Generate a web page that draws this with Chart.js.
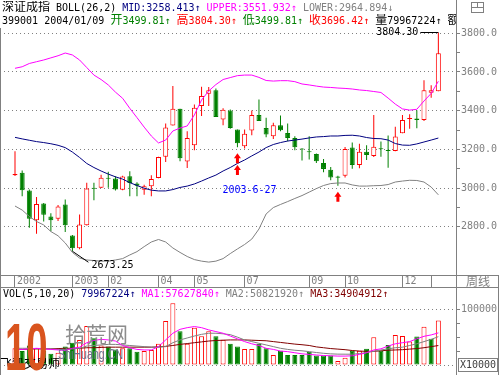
<!DOCTYPE html>
<html>
<head>
<meta charset="utf-8">
<title>深证成指 周线 BOLL</title>
<script src="https://cdn.jsdelivr.net/npm/chart.js@4.4.1/dist/chart.umd.min.js"></script>
<style>
  body { margin: 0; background: #fff; }
  #box { position: relative; width: 500px; height: 375px; overflow: hidden; background: #fff;
         font-family: 'DejaVu Sans Mono', monospace; font-size: 10px; color: #000; }
  canvas { position: absolute; left: 0; }
  .row { position: absolute; white-space: pre; line-height: 13px; overflow: hidden; }
  .cj { font-family: 'Noto Sans CJK SC', sans-serif; font-size: 12px; line-height: 0; }
  .ln { position: absolute; background: #808080; }
</style>
</head>
<body>
<div id="box">
  <canvas id="price" width="500" height="287" style="top:0"></canvas>
  <canvas id="vol" width="500" height="88" style="top:287px"></canvas>

  <div class="row" style="left:2px;top:1px;width:454px"><span class="cj">深证成指</span> BOLL(26,2) <span style="color:#000080">MID:3258.413↑</span> <span style="color:#ff00ff">UPPER:3551.932↑</span> <span style="color:#808080">LOWER:2964.894↓</span></div>
  <div class="row" style="left:2px;top:14px;width:454px">399001 2004/01/09 <span style="color:#008000"><span class="cj">开</span>3499.81↑</span> <span style="color:#ff0000"><span class="cj">高</span>3804.30↑</span> <span style="color:#008000"><span class="cj">低</span>3499.81↑</span> <span style="color:#ff0000"><span class="cj">收</span>3696.42↑</span> <span class="cj">量</span>79967224↑ <span class="cj">额</span></div>
  <div class="row" style="left:3px;top:287px;width:452px">VOL(5,10,20) <span style="color:#000080">79967224↑</span> <span style="color:#ff00ff">MA1:57627840↑</span> <span style="color:#808080">MA2:50821920↑</span> <span style="color:#800000">MA3:34904912↑</span></div>

  <!-- frame -->
  <div class="ln" style="left:0;top:28px;width:1px;height:347px"></div>
  <div class="ln" style="left:456px;top:0;width:1px;height:375px"></div>
  <div class="ln" style="left:0;top:275px;width:498px;height:1px"></div>
  <div class="ln" style="left:0;top:287px;width:498px;height:1px"></div>
  <div class="ln" style="left:498px;top:275px;width:1px;height:100px"></div>
  <div class="row" style="left:466px;top:276px;color:#808080"><span class="cj">周线</span></div>
  <div style="position:absolute;left:471px;top:2px;width:11px;height:9px;border:1px solid #808080">
    <div class="ln" style="left:0;top:4px;width:11px;height:1px"></div>
    <div class="ln" style="left:5px;top:0;width:1px;height:4px"></div>
  </div>
  <div style="position:absolute;left:458px;top:358px;width:38px;height:12px;border:1px solid #808080;overflow:hidden">
    <div class="row" style="left:1px;top:-1px;color:#404040">X10000</div>
  </div>

  <!-- watermark -->
  <div class="row" style="left:0;top:358px"><span class="cj">飞狐交易师</span></div>
  <div style="position:absolute;left:5px;top:314px;font:bold 66px 'Liberation Sans',sans-serif;line-height:66px;color:#d9541e;transform:scaleX(0.58);transform-origin:0 0">10</div>
  <div style="position:absolute;left:65px;top:321px;font:21px 'Noto Sans CJK SC',sans-serif;line-height:24px;color:#8c8c8c">拾荒网</div>
  <div style="position:absolute;left:58px;top:345px;font:15px 'Liberation Sans',sans-serif;color:#6e7390;transform:scaleX(0.71);transform-origin:0 0">ShiHuang.CN</div>
</div>

<script>
// weekly candles, 60 weeks ending 2004/01/09
const opens = [3066, 3079, 2987, 2834, 2920, 2853, 2841, 2915, 2755, 2688,
               2808, 3001, 3001, 3053, 3049, 2991, 3061, 3023, 2991, 3009,
               3052, 3162, 3323, 3410, 3137, 3221, 3424, 3488, 3505, 3354,
               3401, 3303, 3216, 3297, 3377, 3311, 3268, 3325, 3285, 3259,
               3204, 3190, 3176, 3130, 3095, 3059, 3064, 3209, 3119, 3188,
               3166, 3205, 3197, 3191, 3283, 3357, 3359, 3352, 3493, 3499.81];
const highs = [3190, 3091, 2992, 2953, 2922, 2869, 2912, 2941, 2757, 2863,
               3027, 3027, 3068, 3084, 3061, 3064, 3087, 3030, 3017, 3066,
               3162, 3334, 3527, 3410, 3294, 3432, 3524, 3522, 3514, 3413,
               3406, 3303, 3303, 3401, 3458, 3363, 3337, 3375, 3334, 3268,
               3206, 3268, 3178, 3150, 3109, 3064, 3212, 3235, 3229, 3221,
               3378, 3240, 3272, 3317, 3378, 3381, 3402, 3557, 3531, 3804.30];
const lows = [3062, 2958, 2795, 2764, 2827, 2777, 2829, 2772, 2673.25, 2683,
              2806, 2937, 3000, 3001, 2987, 2988, 2957, 2957, 2965, 2957,
              3050, 3134, 3323, 3138, 3104, 3195, 3372, 3424, 3367, 3325,
              3306, 3211, 3204, 3273, 3346, 3263, 3254, 3294, 3242, 3195,
              3142, 3147, 3130, 3081, 3040, 3012, 3055, 3100, 3102, 3145,
              3160, 3162, 3105, 3190, 3283, 3307, 3309, 3347, 3467, 3499.81];
const closes = [3073, 2989, 2841, 2918, 2862, 2834, 2905, 2808, 2688, 2812,
                2998, 2996, 3053, 3048, 2992, 3059, 3026, 3012, 3009, 3047,
                3160, 3313, 3410, 3154, 3259, 3415, 3476, 3505, 3367, 3405,
                3310, 3232, 3280, 3377, 3346, 3277, 3325, 3299, 3259, 3211,
                3199, 3185, 3138, 3099, 3055, 3053, 3202, 3119, 3188, 3171,
                3214, 3200, 3191, 3266, 3352, 3360, 3352, 3505, 3505, 3696.42];

// BOLL(26,2) bands
const upper = [3619, 3627, 3644, 3653, 3662, 3673, 3684, 3698, 3688, 3662,
               3623, 3584, 3561, 3533, 3496, 3464, 3412, 3364, 3315, 3269,
               3233, 3248, 3295, 3310, 3321, 3378, 3455, 3502, 3535, 3561,
               3571, 3581, 3584, 3584, 3572, 3556, 3553, 3555, 3555, 3550,
               3538, 3533, 3527, 3522, 3520, 3517, 3515, 3512, 3507, 3504,
               3499, 3494, 3465, 3434, 3409, 3403, 3407, 3450, 3489, 3551.932];
const mid = [3262, 3254, 3247, 3240, 3235, 3229, 3221, 3209, 3186, 3158,
             3127, 3106, 3088, 3072, 3058, 3046, 3028, 3013, 2999, 2989,
             2985, 2985, 2992, 3003, 3010, 3021, 3036, 3052, 3067, 3088,
             3106, 3127, 3145, 3166, 3186, 3209, 3225, 3235, 3243, 3248,
             3253, 3259, 3264, 3266, 3269, 3269, 3272, 3273, 3269, 3261,
             3256, 3255, 3248, 3230, 3222, 3221, 3228, 3238, 3248, 3258.413];
const lower = [2907, 2886, 2853, 2827, 2809, 2775, 2753, 2716, 2667, 2638,
               2628, 2625, 2622, 2622, 2628, 2635, 2654, 2671, 2697, 2721,
               2734, 2721, 2690, 2667, 2646, 2630, 2622, 2617, 2622, 2635,
               2661, 2685, 2708, 2736, 2788, 2866, 2899, 2915, 2930, 2946,
               2961, 2979, 2997, 3013, 3023, 3026, 3026, 3016, 3010, 3010,
               3012, 3013, 3018, 3031, 3036, 3040, 3039, 3031, 3005, 2964.894];

// volume in millions of shares, 1 = red (up) bar
const volumes = [30, 25, 35, 30, 25, 20, 22, 33, 40, 45,
                 70, 48, 35, 33, 28, 30, 30, 24, 25, 27,
                 38, 79, 111, 60.6, 38, 66.7, 51.5, 60.6, 51.5, 45.5,
                 38, 33, 28.5, 28.5, 38, 30, 18, 25.5, 18, 18,
                 18, 24, 17, 17, 17, 7, 13, 25.5, 25.5, 29,
                 50, 25.5, 35.8, 54, 52, 42, 51, 68.5, 47, 79.967224];
const volUp = [1, 0, 0, 1, 0, 0, 1, 0, 0, 1,
               1, 0, 1, 0, 0, 1, 0, 0, 1, 1,
               1, 1, 1, 0, 1, 1, 1, 1, 0, 1,
               0, 0, 1, 1, 0, 0, 1, 0, 0, 0,
               0, 0, 0, 0, 0, 1, 1, 0, 1, 0,
               1, 0, 0, 1, 1, 1, 0, 1, 0, 1];
const ma1 = [28, 28, 29, 30, 29, 28, 27, 26, 30, 32,
             40, 44, 46, 45, 43, 35, 31, 28, 27, 27,
             33, 45, 57, 64, 67, 69, 67, 63, 60, 57,
             52, 47, 42, 38, 35, 30, 28, 25, 24, 22,
             20, 19, 18, 17, 16.5, 16, 16, 16.5, 19, 22,
             27, 29, 34, 38, 40, 42, 47, 51.5, 54, 57.62784];
const ma2 = [30, 30, 30, 29, 29, 29, 28, 28, 29, 30,
             34, 35, 36, 37, 37, 36, 35, 34, 33, 32,
             32, 33, 40, 45, 48.5, 52, 55, 57, 57, 56,
             54.5, 50, 45, 42, 39, 36, 33, 30, 28, 26.5,
             25.5, 24, 22.4, 21, 20, 19.5, 19.4, 19.4, 20.5, 22.4,
             24.5, 27, 29, 31, 32, 35, 38, 42, 46, 50.82192];
const ma3 = [28, 28, 28.5, 29, 29, 29, 29.5, 30, 30, 30,
             31, 31, 31.5, 32, 32, 32, 32, 32, 32, 32,
             32.5, 33.5, 35, 37, 38.5, 40, 41.5, 43, 44, 44.5,
             45, 45, 45, 44.5, 44, 43.5, 42, 40.5, 39, 37.5,
             36.4, 35, 32.5, 31, 29.5, 28.5, 27.5, 26, 25, 24.5,
             24.5, 25.5, 26.5, 27, 27.5, 28.5, 29.5, 31, 33, 34.904912];

const dateTickIdx = [0, 8, 13, 20, 25, 32, 41, 46, 54, 58];
const dateTickText = ['2002', '2003', '02', '04', '05', '07', '09', '10', '12', ''];
const priceTicks = [2800, 2900, 3000, 3100, 3200, 3300, 3400, 3500, 3600, 3700, 3800];
const volTicks = [0, 25, 50, 75, 100];

// annotations: [week index, price]
const arrowMarks = [[31, 3180], [31, 3119], [45, 2981]];
const dateMark = [31, 2986, '2003-6-27'];

const RED = '#ff0000', GREEN = '#008000', GRAY = '#808080';
const MONO = "'DejaVu Sans Mono', monospace";
const X_MIN = -2.09, X_MAX = 61.46;
const CLEAR = 'rgba(0,0,0,0)';

const isUp = closes.map((c, i) => c >= opens[i]);
const xy = arr => arr.map((v, i) => ({ x: i, y: v }));

function lineSet(label, arr, color) {
    return {
        type: 'line', label: label, data: xy(arr),
        borderColor: color, borderWidth: 1, pointRadius: 0, tension: 0, order: 1
    };
}

// labels, lines and arrows drawn on the price panel
const priceMarks = {
    id: 'priceMarks',
    afterDatasetsDraw(chart) {
        const { ctx, scales: { x, y } } = chart;
        ctx.save();
        ctx.font = "10px 'DejaVu Sans Mono', monospace";
        ctx.lineWidth = 1;
        ctx.strokeStyle = '#000';
        ctx.fillStyle = '#000';
        ctx.textBaseline = 'middle';

        const hiVal = Math.max(...highs);
        const hx = x.getPixelForValue(highs.indexOf(hiVal));
        const hy = Math.round(y.getPixelForValue(hiVal)) + 0.5;
        ctx.beginPath();
        ctx.moveTo(hx - 18, hy);
        ctx.lineTo(hx, hy);
        ctx.stroke();
        ctx.textAlign = 'right';
        ctx.fillText(hiVal.toFixed(2), hx - 20, hy);

        const loVal = Math.min(...lows);
        const lx = x.getPixelForValue(lows.indexOf(loVal));
        const ly = y.getPixelForValue(loVal);
        ctx.beginPath();
        ctx.moveTo(lx, ly);
        ctx.lineTo(lx + 16, ly + 11);
        ctx.stroke();
        ctx.textAlign = 'left';
        ctx.fillText(loVal.toFixed(2), lx + 19, ly + 14);

        ctx.fillStyle = '#0000ff';
        ctx.fillText(dateMark[2], x.getPixelForValue(dateMark[0]) - 15, y.getPixelForValue(dateMark[1]));

        ctx.fillStyle = RED;
        arrowMarks.forEach(([i, v]) => {
            const px = x.getPixelForValue(i), py = y.getPixelForValue(v);
            ctx.beginPath();
            ctx.moveTo(px, py);
            ctx.lineTo(px + 3.5, py + 5);
            ctx.lineTo(px + 1.5, py + 5);
            ctx.lineTo(px + 1.5, py + 10);
            ctx.lineTo(px - 1.5, py + 10);
            ctx.lineTo(px - 1.5, py + 5);
            ctx.lineTo(px - 3.5, py + 5);
            ctx.closePath();
            ctx.fill();
        });
        ctx.restore();
    }
};

function initCharts() {
    // Price panel: candles + BOLL bands
    const priceConfig = {
        type: 'bar',
        data: {
            datasets: [
                lineSet('UPPER', upper, '#ff00ff'),
                lineSet('MID', mid, '#000080'),
                lineSet('LOWER', lower, GRAY),
                {
                    label: 'body',
                    data: opens.map((o, i) => ({ x: i, y: [o, closes[i]] })),
                    backgroundColor: isUp.map(u => u ? '#ffffff' : GREEN),
                    borderColor: isUp.map(u => u ? RED : GREEN),
                    borderWidth: 1, borderSkipped: false, barThickness: 5,
                    minBarLength: 1, grouped: false, inflateAmount: 0, order: 2
                },
                {
                    label: 'wick',
                    data: lows.map((l, i) => ({ x: i, y: [l, highs[i]] })),
                    backgroundColor: isUp.map(u => u ? RED : GREEN),
                    borderWidth: 0, barThickness: 1, grouped: false, inflateAmount: 0, order: 3
                }
            ]
        },
        options: {
            responsive: false, animation: false, devicePixelRatio: 1,
            layout: { padding: { top: 28, left: 0, right: 0, bottom: 0 } },
            plugins: { legend: { display: false }, tooltip: { enabled: false } },
            scales: {
                x: {
                    type: 'linear', min: X_MIN, max: X_MAX, offset: false,
                    afterBuildTicks: s => { s.ticks = dateTickIdx.map(v => ({ value: v })); },
                    afterFit: s => { s.height = 12; s.paddingLeft = 0; s.paddingRight = 0; },
                    grid: { offset: false, drawOnChartArea: false, drawTicks: true, tickLength: 12, tickColor: GRAY, color: GRAY },
                    border: { display: false },
                    ticks: {
                        autoSkip: false, maxRotation: 0, minRotation: 0, align: 'start',
                        labelOffset: 2, padding: -11.5, color: GRAY, font: { family: MONO, size: 10 },
                        callback: (v, i) => dateTickText[i]
                    }
                },
                y: {
                    position: 'right', min: 2550.3, max: 3827.4,
                    afterBuildTicks: s => { s.ticks = priceTicks.map(v => ({ value: v })); },
                    afterFit: s => { s.width = 44; s.paddingTop = 0; s.paddingBottom = 0; },
                    grid: {
                        color: c => (c.tick && c.tick.value % 200 === 0) ? GRAY : CLEAR,
                        tickColor: GRAY, tickLength: 4, drawTicks: true
                    },
                    border: { display: false, dash: [1, 3] },
                    ticks: {
                        padding: 1, color: GRAY, font: { family: MONO, size: 10 },
                        callback: v => v % 200 === 0 ? v.toFixed(1) : ''
                    }
                }
            }
        },
        plugins: [priceMarks]
    };

    // Volume panel: bars + MA(5,10,20)
    const volConfig = {
        type: 'bar',
        data: {
            datasets: [
                lineSet('MA1', ma1, '#ff00ff'),
                lineSet('MA2', ma2, GRAY),
                lineSet('MA3', ma3, '#800000'),
                {
                    label: 'VOL',
                    data: xy(volumes),
                    backgroundColor: volUp.map(u => u ? '#ffffff' : GREEN),
                    borderColor: volUp.map(u => u ? RED : GREEN),
                    borderWidth: 1, borderSkipped: false, barThickness: 5,
                    grouped: false, inflateAmount: 0, order: 2
                }
            ]
        },
        options: {
            responsive: false, animation: false, devicePixelRatio: 1,
            layout: { padding: { top: 1, left: 0, right: 0, bottom: 10 } },
            plugins: { legend: { display: false }, tooltip: { enabled: false } },
            scales: {
                x: { type: 'linear', min: X_MIN, max: X_MAX, offset: false, display: false, grid: { offset: false } },
                y: {
                    position: 'right', min: 0, max: 138.2,
                    afterBuildTicks: s => { s.ticks = volTicks.map(v => ({ value: v })); },
                    afterFit: s => { s.width = 44; s.paddingTop = 0; s.paddingBottom = 0; },
                    grid: {
                        color: c => (c.tick && (c.tick.value === 0 || c.tick.value === 100)) ? GRAY : CLEAR,
                        tickColor: c => (c.tick && c.tick.value === 0) ? CLEAR : GRAY,
                        tickLength: 4, drawTicks: true
                    },
                    border: { display: false, dash: [1, 3] },
                    ticks: {
                        padding: 1, color: GRAY, font: { family: MONO, size: 10 },
                        callback: v => v === 100 ? String(v * 1000) : ''
                    }
                }
            }
        }
    };

    const ctxPrice = document.getElementById('price').getContext('2d');
    new Chart(ctxPrice, priceConfig);

    const ctxVol = document.getElementById('vol').getContext('2d');
    new Chart(ctxVol, volConfig);
}

initCharts();
</script>
</body>
</html>
